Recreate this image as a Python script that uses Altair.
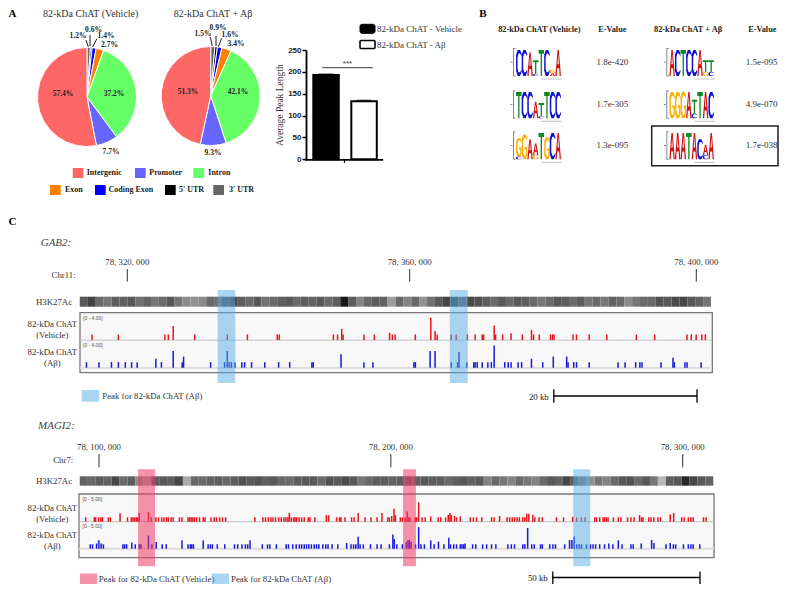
import altair as alt
import pandas as pd

# ---------- data ----------
pie_cats = ["3' UTR", "5' UTR", "Coding Exon", "Exon", "Intron", "Promoter", "Intergenic"]
pie_colors = ["#666666", "#000000", "#0000ff", "#ff8000", "#66ff66", "#6666ff", "#ff6666"]
pie_vehicle = [1.2, 0.6, 1.4, 2.7, 37.2, 7.7, 57.4]
pie_abeta = [1.5, 0.9, 1.6, 3.4, 42.1, 9.3, 51.3]

bar_names = ["82-kDa ChAT - Vehicle", "82-kDa ChAT - A\u03b2"]
bar_means = [193, 133]
bar_errs = [2, 2]
bar_ticks = [0, 50, 100, 150, 200, 250]

evalues_left = ["1.8e-420", "1.7e-305", "1.3e-095"]
evalues_right = ["1.5e-095", "4.9e-070", "1.7e-038"]
logo_l1 = [[("C", 1.9)], [("C", 1.9)], [("A", 1.7)], [("C", .15), ("T", 1.0)], [("T", 1.9)], [("C", 1.9)], [("A", .2), ("G", .25)], [("A", 1.9)]]
logo_l2 = [[("T", 1.9)], [("C", 1.9)], [("C", 1.9)], [("A", 1.2)], [("C", .15), ("T", .95)], [("T", 1.9)], [("C", 1.9)], [("C", 1.9)]]
logo_l3 = [[("C", .2), ("G", 1.35)], [("G", 1.8)], [("A", 1.45)], [("G", .3), ("A", .85)], [("T", 1.9)], [("G", 1.6)], [("C", 1.9)], [("A", 1.9)]]
logo_r1 = [[("A", 1.9)], [("C", 1.9)], [("T", 1.9)], [("C", 1.9)], [("C", 1.9)], [("A", 1.9)], [("G", .3), ("T", .85)], [("C", .3), ("T", .85)]]
logo_r2 = [[("G", 1.9)], [("G", 1.9)], [("G", 1.9)], [("A", 1.9)], [("C", .35), ("T", 1.0)], [("T", 1.9)], [("A", 1.9)], [("C", 1.9)]]
logo_r3 = [[("A", 1.9)], [("A", 1.9)], [("A", 1.9)], [("T", 1.9)], [("A", 1.9)], [("C", 1.45)], [("C", .3), ("A", .75)], [("A", 1.9)]]

gab2_ticks = [78320, 78360, 78400]
gab2_tick_labels = ["78, 320, 000", "78, 360, 000", "78, 400, 000"]
gab2_red_low = [78314.2, 78318.0, 78324.7, 78325.2, 78329.0, 78333.7, 78336.6, 78340.9, 78341.2, 78349.0, 78349.6,
                78350.4, 78353.4, 78354.9, 78357.5, 78357.9, 78360.8, 78363.9, 78365.9, 78366.6, 78368.2, 78369.3,
                78370.3, 78370.5, 78372.2, 78373.2, 78376.0, 78377.6, 78378.4, 78380.0, 78380.3, 78380.5, 78383.2,
                78383.7, 78385.5, 78388.0, 78392.2, 78394.8, 78399.4, 78400.0, 78400.7, 78401.5, 78402.0]
gab2_red_high = [(78325.9, 2.5), (78350.2, 2), (78357.1, 1.3), (78363.0, 4), (78363.6, 1.6), (78372.0, 2.6),
                 (78374.4, 1.2), (78377.3, 1.8)]
gab2_blue_low = [78313.4, 78315.2, 78317.0, 78318.0, 78319.0, 78319.9, 78320.7, 78324.2, 78327.2, 78331.3, 78333.3,
                 78334.0, 78334.3, 78334.8, 78335.8, 78336.2, 78337.2, 78339.1, 78341.1, 78342.7, 78345.9, 78346.1,
                 78353.4, 78354.7, 78360.6, 78360.8, 78365.9, 78366.8, 78368.1, 78369.1, 78369.3, 78369.6, 78370.3,
                 78371.1, 78371.6, 78373.5, 78374.0, 78374.4, 78375.4, 78375.9, 78378.9, 78382.5, 78383.3, 78383.7,
                 78385.5, 78389.6, 78390.6, 78392.1, 78392.7, 78393.0, 78395.7, 78397.6, 78399.1, 78399.4, 78401.4]
gab2_blue_high = [(78323.4, 1.6), (78325.9, 3), (78327.4, 2), (78333.7, 3), (78350.1, 2.4), (78362.9, 3), (78363.6, 3),
                  (78367.0, 2.8), (78372.0, 4), (78377.3, 1.6), (78380.4, 2), (78382.3, 2), (78397.4, 1.8)]
gab2_peaks = [(78332.8, 78335.3), (78365.6, 78368.1)]
gab2_signal = [0.62, 0.72, 0.55, 0.5, 0.6, 0.58, 0.62, 0.52, 0.58, 0.5, 0.55, 0.62, 0.5, 0.42, 0.4, 0.42, 0.55, 0.52,
               0.65, 0.7, 0.6, 0.55, 0.62, 0.52, 0.55, 0.6, 0.62, 0.55, 0.6, 0.58, 0.62, 0.55, 0.6, 0.92, 0.6, 0.45,
               0.55, 0.6, 0.58, 0.35, 0.55, 0.45, 0.55, 0.4, 0.52, 0.62, 0.7, 0.72, 0.6, 0.68, 0.65, 0.6, 0.55, 0.62,
               0.55, 0.62, 0.6, 0.55, 0.5, 0.55, 0.62, 0.6, 0.55, 0.6, 0.5, 0.55, 0.5, 0.58, 0.55, 0.42, 0.5, 0.55,
               0.55, 0.65, 0.62, 0.68, 0.7, 0.62, 0.58, 0.5]

magi2_start = 78100
magi2_ticks = [78100, 78200, 78300]
magi2_tick_labels = ["78, 100, 000", "78, 200, 000", "78, 300, 000"]
magi2_red_low = [-6.4, -3.4, -2.9, -1.9, -1.1, -.5, 1.5, 2.2, 8.2, 9.5, 10.1, 10.7, 11.3, 11.8, 16.5, 18.1, 19.0, 20.1,
                 20.9, 21.8, 22.4, 23.4, 24.1, 26.3, 27.2, 29.3, 29.8, 30.4, 31.0, 31.5, 32.3, 33.3, 34.6, 35.2, 37.3,
                 38.4, 39.2, 40.3, 41.3, 42.4, 52.6, 55.4, 56.3, 57.3, 58.2, 58.9, 59.8, 60.9, 61.8, 62.7, 63.4, 64.1,
                 65.3, 66.1, 66.6, 67.2, 68.0, 68.9, 69.8, 71.2, 71.8, 73.5, 81.1, 82.1, 82.6, 84.0, 86.3, 87.2, 91.0,
                 93.1, 95.2, 98.9, 99.5, 103.3, 104.0, 105.0, 106.2, 106.7, 108.5, 109.0, 110.9, 112.0, 116.5, 117.4,
                 119.1, 122.9, 127.7, 128.8, 129.9, 131.7, 135.1, 136.0, 140.5, 141.4, 142.3, 143.1, 144.0, 144.8,
                 146.0, 146.7, 150.2, 151.7, 152.8, 157.7, 160.2, 164.8, 166.4, 167.7, 171.1, 171.7, 172.8, 174.0,
                 174.5, 175.1, 175.7, 177.6, 179.3, 180.2, 182.5, 183.7, 184.8, 187.4, 187.9, 189.9, 190.7, 191.7,
                 193.1, 194.0, 201.4, 202.3, 203.7, 204.6, 205.4, 209.0, 209.9]
magi2_red_high = [(5.6, 1.9), (12.3, 2), (15.5, 2.2), (64.6, 2), (77.5, 1.5), (78.3, 1.5), (88.6, 2), (96.9, 2),
                  (100.3, 1.3), (101.1, 3), (101.6, 1.5), (105.7, 2.3), (109.7, 4.4), (113.9, 1.2), (120.0, 1.5),
                  (120.6, 2), (121.1, 1.5), (122.2, 1.3), (124.2, 1.2), (137.9, 1.3), (147.4, 1.8), (148.1, 1.8),
                  (149.5, 1.6), (163.4, 1.1), (186.7, 1.5), (197.4, 1.7), (198.6, 2)]
magi2_blue_low = [-4.8, -4.0, -.2, 6.6, 7.2, 7.9, 10.9, 12.3, 12.9, 16.7, 20.3, 21.7, 29.3, 30.1, 30.6, 31.2, 36.3, 37.1,
                  37.8, 39.5, 42.1, 45.5, 46.6, 48.1, 49.3, 50.1, 55.2, 57.0, 57.8, 60.1, 63.5, 64.3, 65.8, 67.0, 68.1,
                  68.9, 69.8, 70.6, 71.4, 72.3, 73.3, 74.1, 74.9, 76.3, 77.3, 78.1, 79.5, 81.5, 86.1, 87.0, 87.8, 89.3,
                  90.4, 92.9, 95.2, 96.6, 99.5, 102.1, 104.0, 108.6, 110.5, 111.7, 115.1, 118.5, 120.8, 121.9, 122.9,
                  124.2, 124.8, 125.4, 128.5, 129.6, 132.0, 133.4, 135.1, 136.6, 140.8, 142.0, 143.1, 146.0, 146.7,
                  149.1, 150.0, 152.2, 152.8, 155.4, 156.5, 157.4, 160.6, 164.8, 165.7, 166.5, 168.2, 169.6, 170.5,
                  171.4, 172.8, 174.5, 177.4, 180.6, 183.7, 184.5, 195.9, 198.5, 199.3, 202.0, 203.7, 204.6, 205.4,
                  207.7]
magi2_blue_high = [(-2.6, 1.2), (-1.8, 1.9), (-1.0, 1.2), (9.7, 1.4), (15.5, 3), (18.2, 1.5), (27.2, 1.9), (34.6, 1.9),
                   (50.9, 1.9), (84.6, 1.3), (88.6, 2.7), (100.7, 3.2), (101.2, 2.2), (105.4, 1.5), (106.0, 2),
                   (106.5, 2), (107.1, 1.5), (109.7, 4.9), (113.9, 1.9), (116.6, 1.6), (120.2, 2.5), (125.9, 1.2),
                   (147.7, 4.7), (162.3, 2), (163.1, 2), (163.9, 2.8), (176.0, 1.2), (179.3, 1.9), (187.3, 1.2),
                   (190.9, 2), (191.7, 1.3), (197.4, 1.3)]
magi2_red_peaks = [(13.4, 19.2), (104.2, 108.6)]
magi2_blue_peaks = [(162.5, 168.3)]
magi2_signal = [0.58, 0.55, 0.6, 0.58, 0.7, 0.55, 0.6, 0.42, 0.35, 0.6, 0.62, 0.6, 0.7, 0.3, 0.55, 0.55, 0.58, 0.6,
                0.55, 0.6, 0.65, 0.62, 0.65, 0.6, 0.62, 0.55, 0.55, 0.6, 0.62, 0.62, 0.55, 0.65, 0.62, 0.68, 0.62, 0.5,
                0.55, 0.6, 0.6, 0.58, 0.6, 0.6, 0.58, 0.62, 0.6, 0.6, 0.55, 0.6, 0.62, 0.58, 0.62, 0.45, 0.55, 0.5,
                0.45, 0.55, 0.5, 0.45, 0.55, 0.62, 0.58, 0.7, 0.6, 0.5, 0.4, 0.5, 0.45, 0.55, 0.62, 0.65, 0.55, 0.62,
                0.5, 0.25, 0.6, 0.62, 0.85, 0.7, 0.62, 0.58]

# ---------- layout helpers (reference pixel -> canvas) ----------
M = 8
W, H = 771, 577
SERIF = "Liberation Serif"
SANS = "Liberation Sans"
layers = []


def X(p):
    return p - M


def Y(p):
    return p - M


def text(s, x, y, size=9, align="center", bold=False, italic=False, color="#222222", font=SERIF):
    layers.append(alt.Chart().mark_text(
        fontSize=size, align=align, baseline="middle", font=font,
        fontWeight="bold" if bold else "normal", fontStyle="italic" if italic else "normal", color=color
    ).encode(text=alt.value(s), x=alt.value(X(x)), y=alt.value(Y(y))))


def line(x1, y1, x2, y2, color="#000000", width=1.0):
    layers.append(alt.Chart().mark_rule(color=color, strokeWidth=width).encode(
        x=alt.value(X(x1)), y=alt.value(Y(y1)), x2=alt.value(X(x2)), y2=alt.value(Y(y2))))


def box(x1, y1, x2, y2, fill="transparent", stroke=None, width=0, opacity=1.0, radius=0):
    kw = dict(fill=fill, opacity=opacity, strokeWidth=width, cornerRadius=radius)
    if stroke:
        kw["stroke"] = stroke
    layers.append(alt.Chart().mark_rect(**kw).encode(
        x=alt.value(X(x1)), y=alt.value(Y(y1)), x2=alt.value(X(x2)), y2=alt.value(Y(y2))))


# ---------- panel A: pies ----------
def pie(values, cx, cy, r=49.5):
    df = pd.DataFrame({"cat": pie_cats, "v": values, "o": list(range(len(values)))})
    layers.append(alt.Chart(df).mark_arc(outerRadius=r, stroke="white", strokeWidth=1).encode(
        x=alt.value(X(cx)), y=alt.value(Y(cy)),
        theta=alt.Theta("v:Q", stack="normalize"),
        color=alt.Color("cat:N", scale=alt.Scale(domain=pie_cats, range=pie_colors), legend=None),
        order=alt.Order("o:Q")))


pie(pie_vehicle, 87, 97)
pie(pie_abeta, 210.7, 96)
text("82-kDa ChAT (Vehicle)", 90.7, 14, size=10, color="#333333")
text("82-kDa ChAT + A\u03b2", 213, 14, size=10, color="#333333")
for v, x, y in zip(pie_vehicle, [78, 93.5, 106, 109.5, 114, 111, 63], [35.5, 29.5, 36, 44.5, 94, 152, 94]):
    text(f"{v}%", x, y, size=7.5, bold=True)
for v, x, y in zip(pie_abeta, [203, 218, 230, 236, 238, 213, 188], [34, 28, 34.5, 43.5, 92, 153, 92]):
    text(f"{v}%", x, y, size=7.5, bold=True)
line(88.3, 46.7, 86, 40, width=0.9)
line(90, 46, 90, 35, width=0.9)
line(92.7, 47, 96.7, 39, width=0.9)
line(212.3, 46, 210.3, 37, width=0.9)
line(216, 46, 216, 36, width=0.9)
line(218.3, 46.7, 221.7, 38.3, width=0.9)

legend_rows = [("Intergenic", "#ff6666", 72.7, 86.7, 173), ("Promoter", "#6666ff", 135, 149.3, 173),
               ("Intron", "#66ff66", 193.3, 208.3, 173), ("Exon", "#ff8000", 50, 65, 190),
               ("Coding Exon", "#0000ff", 95, 108.5, 190), ("5' UTR", "#000000", 165, 179, 190),
               ("3' UTR", "#666666", 213.3, 229, 190)]
for name, col, bx, tx, cy in legend_rows:
    box(bx, cy - 5, bx + 10.7, cy + 5, fill=col)
    text(name, tx, cy, size=8, align="left", bold=True)

text("A", 8.5, 14, size=11, align="left", bold=True, color="#000000")
text("B", 483, 14, size=11, bold=True, color="#000000")
text("C", 8.5, 222, size=11, align="left", bold=True, color="#000000")

# ---------- panel A: bar chart ----------
bar_df = pd.DataFrame({"name": bar_names, "mean": bar_means, "upper": [m + e for m, e in zip(bar_means, bar_errs)]})
bx_scale = alt.Scale(domain=bar_names, range=[X(313.3), X(376.8)], paddingInner=0.33, paddingOuter=0)
by_scale = alt.Scale(domain=[0, 250], range=[Y(159.3), Y(50)], zero=False, nice=False)
layers.append(alt.Chart(bar_df).mark_rule(color="#000000", strokeWidth=1).encode(
    x=alt.X("name:N", scale=bx_scale, axis=None, sort=None),
    y=alt.Y("mean:Q", scale=by_scale, axis=None), y2="upper:Q"))
layers.append(alt.Chart(bar_df).mark_tick(color="#000000", size=15, thickness=1.2).encode(
    x=alt.X("name:N", scale=bx_scale, axis=None, sort=None),
    y=alt.Y("upper:Q", scale=by_scale, axis=None)))
layers.append(alt.Chart(bar_df).mark_bar(stroke="#000000", strokeWidth=2).encode(
    x=alt.X("name:N", scale=bx_scale, axis=None, sort=None),
    y=alt.Y("mean:Q", scale=by_scale, axis=alt.Axis(
        values=bar_ticks, offset=-X(306), grid=False, domainColor="#000000", domainWidth=1.8,
        tickColor="#000000", tickWidth=1.5, tickSize=4, labelFont=SANS, labelFontWeight="bold", labelFontSize=8,
        labelColor="#222222", labelPadding=1, title="Average Peak Length", titleFont=SERIF, titleFontWeight="normal",
        titleFontSize=9.5, titleColor="#333333", titlePadding=3)),
    fill=alt.Fill("name:N", scale=alt.Scale(domain=bar_names, range=["#000000", "#ffffff"]), legend=None)))
layers.append(alt.Chart(pd.DataFrame({"g": ["all"]})).mark_point(opacity=0).encode(
    x=alt.X("g:N", scale=alt.Scale(domain=["all"], range=[X(304.3), X(382.7)]), axis=alt.Axis(
        offset=-(H - Y(159.3)), labels=False, title=None, grid=False, domainColor="#000000", domainWidth=1.8,
        tickColor="#000000", tickWidth=1.2, tickSize=3))))
line(322.3, 67.7, 372.7, 67.7, color="#222222", width=0.9)
text("***", 347.5, 64, size=8, font=SANS, color="#333333")
box(360, 24.3, 375, 33.3, fill="#000000", stroke="#000000", width=1, radius=2)
box(360, 40.5, 375, 48.5, fill="#ffffff", stroke="#000000", width=1.6, radius=1)
text(bar_names[0], 377, 28.5, size=9, align="left", color="#333333")
text(bar_names[1], 377, 44.5, size=9, align="left", color="#333333")

# ---------- panel B: motif logos ----------
LETTERS = {
    "T": [[(0, .85), (.38, .85), (.38, 0), (.62, 0), (.62, .85), (1, .85), (1, 1), (0, 1)]],
    "A": [[(0, 0), (.38, 1), (.62, 1), (1, 0), (.76, 0), (.68, .3), (.32, .3), (.24, 0)],
          [(.38, .45), (.62, .45), (.5, .85)]],
    "C": [[(1, .75), (1, .85), (.72, 1), (.3, 1), (0, .8), (0, .2), (.3, 0), (.72, 0), (1, .15), (1, .25), (.72, .14),
           (.45, .14), (.27, .28), (.27, .72), (.45, .86), (.72, .86)]],
    "G": [[(1, .75), (1, .85), (.72, 1), (.3, 1), (0, .8), (0, .2), (.3, 0), (.72, 0), (1, .15), (1, .5), (.55, .5),
           (.55, .38), (.75, .38), (.75, .2), (.72, .14), (.45, .14), (.27, .28), (.27, .72), (.45, .86), (.72, .86)]],
}
LETTER_COLORS = {"A": "#d01010", "C": "#1010cc", "G": "#ffb000", "T": "#108a20"}


def glyph(letter, w, h):
    parts = []
    for poly in LETTERS[letter]:
        pts = [f"{(px - .5) * w:.2f},{-py * h:.2f}" for px, py in poly]
        parts.append("M" + " L".join(pts) + " Z")
    return " ".join(parts)


def logo(stacks, x0, x1, ybot, ytop):
    n = len(stacks)
    w = (x1 - x0) / n * 0.98
    bit_px = (ybot - ytop) / 2
    rows = []
    for i, stack in enumerate(stacks):
        base = 0.0
        for letter, bits in stack:
            rows.append({"pos": i + .5, "base": base, "path": glyph(letter, w, bits * bit_px),
                         "fill": LETTER_COLORS[letter]})
            base += bits
    layers.append(alt.Chart(pd.DataFrame(rows)).mark_point(filled=True, size=4, opacity=1, strokeWidth=0).encode(
        x=alt.X("pos:Q", scale=alt.Scale(domain=[0, n], range=[X(x0), X(x1)], zero=False, nice=False), axis=None),
        y=alt.Y("base:Q", scale=alt.Scale(domain=[0, 2], range=[Y(ybot), Y(ytop)], zero=False, nice=False), axis=None),
        shape=alt.Shape("path:N", scale=None),
        color=alt.Color("fill:N", scale=None)))
    bx = x0 - 2.5
    line(bx, ytop, bx, ybot, color="#555555", width=0.7)
    line(bx, ytop, bx + 2, ytop, color="#555555", width=0.7)
    line(bx, ybot, bx + 2, ybot, color="#555555", width=0.7)
    line(bx - 3, (ytop + ybot) / 2, bx - 1, (ytop + ybot) / 2, color="#555555", width=0.7)
    line(x0 + 25, ybot + 3, x1 + 1, ybot + 3, color="#999999", width=0.6)


LX0, LX1, RX0, RX1 = 516, 561, 669.3, 714
logo(logo_l1, LX0, LX1, 76, 48.5)
logo(logo_l2, LX0, LX1, 118.3, 90.7)
logo(logo_l3, LX0, LX1, 159.3, 131.7)
logo(logo_r1, RX0, RX1, 76, 48.5)
logo(logo_r2, RX0, RX1, 118.3, 90.7)
logo(logo_r3, RX0, RX1, 159.3, 131.7)
text("82-kDa ChAT (Vehicle)", 539.3, 30, size=8.3, bold=True)
text("E-Value", 612.3, 30, size=8.3, bold=True)
text("82-kDa ChAT + A\u03b2", 688, 30, size=8.3, bold=True)
text("E-Value", 762.3, 30, size=8.3, bold=True)
for s, y in zip(evalues_left, [62.3, 104, 145]):
    text(s, 612.3, y, size=9, color="#333333")
for s, y in zip(evalues_right, [62.3, 104, 145]):
    text(s, 761.7, y, size=9, color="#333333")
box(651.7, 126, 778, 165.7, stroke="#222222", width=1.5)


# ---------- panel C: tracks ----------
def bars(low, high, xscale, ymax, ybase, ytop, color):
    df = pd.DataFrame({"pos": list(low) + [p for p, _ in high], "v": [1.0] * len(low) + [v for _, v in high]})
    layers.append(alt.Chart(df).mark_bar(width=1.5, color=color).encode(
        x=alt.X("pos:Q", scale=xscale, axis=None),
        y=alt.Y("v:Q", scale=alt.Scale(domain=[0, ymax], range=[Y(ybase), Y(ytop)], zero=False, nice=False),
                axis=None, stack=None)))


def strip(signal, x0, x1, y0, y1):
    n = len(signal)
    df = pd.DataFrame({"b": list(range(n)), "e": [i + 1 for i in range(n)], "s": signal})
    layers.append(alt.Chart(df).mark_rect().encode(
        x=alt.X("b:Q", scale=alt.Scale(domain=[0, n], range=[X(x0), X(x1)], zero=False, nice=False), axis=None),
        x2="e:Q",
        y=alt.value(Y(y0)), y2=alt.value(Y(y1)),
        color=alt.Color("s:Q", scale=alt.Scale(domain=[0, 1], range=["#ffffff", "#000000"]), legend=None)))


def peaks(spans, xscale, y0, y1, color, opacity):
    df = pd.DataFrame({"s": [a for a, _ in spans], "e": [b for _, b in spans]})
    layers.append(alt.Chart(df).mark_rect(color=color, opacity=opacity).encode(
        x=alt.X("s:Q", scale=xscale, axis=None), x2="e:Q", y=alt.value(Y(y0)), y2=alt.value(Y(y1))))


def ticks(values, labels, xscale, y_label, y0, y1):
    df = pd.DataFrame({"p": values, "t": labels})
    layers.append(alt.Chart(df).mark_rule(color="#333333", strokeWidth=1).encode(
        x=alt.X("p:Q", scale=xscale, axis=None), y=alt.value(Y(y0)), y2=alt.value(Y(y1))))
    layers.append(alt.Chart(df).mark_text(fontSize=8.8, font=SERIF, color="#333333", baseline="middle").encode(
        x=alt.X("p:Q", scale=xscale, axis=None), y=alt.value(Y(y_label)), text="t:N"))


BLUE_PEAK, RED_PEAK = "#58aee8", "#ee3a66"
RED, BLUE = "#e8141c", "#1818d8"
gab2_x = alt.Scale(domain=gab2_ticks, range=[X(127.3), X(409.7), X(696.3)], zero=False, nice=False)
magi2_x = alt.Scale(domain=[magi2_ticks[0], magi2_ticks[-1]], range=[X(99), X(682.7)], zero=False, nice=False)

# GAB2
text("GAB2:", 40.7, 243, size=11, align="left", italic=True, color="#444444")
ticks(gab2_ticks, gab2_tick_labels, gab2_x, 262, 269, 281.7)
text("Chr11:", 75.7, 275, size=8.8, align="right", color="#333333")
text("H3K27Ac", 54, 302.3, size=8.8, color="#333333")
strip(gab2_signal, 80, 711, 296.7, 306.7)
box(79, 296.7, 80, 306.7, fill="#f8c8c8")
box(80, 312.7, 712.3, 372.7, fill="#f8f8f8", stroke="#777777", width=1.3)
line(80, 340.2, 712, 340.2, color="#bbbbbb", width=0.9)
line(80, 367.7, 712, 367.7, color="#dddddd", width=2)
bars(gab2_red_low, gab2_red_high, gab2_x, 4, 340, 317.7, RED)
bars(gab2_blue_low, gab2_blue_high, gab2_x, 4, 367.7, 345.4, BLUE)
text("[0 - 4.00]", 83, 317.7, size=5, align="left", font=SANS, color="#555555")
text("[0 - 4.00]", 83, 345, size=5, align="left", font=SANS, color="#555555")
text("82-kDa ChAT", 52.3, 324.3, size=8.8, color="#333333")
text("(Vehicle)", 52.3, 335, size=8.8, color="#333333")
text("82-kDa ChAT", 52.3, 351.7, size=8.8, color="#333333")
text("(A\u03b2)", 52.3, 362.7, size=8.8, color="#333333")
peaks(gab2_peaks, gab2_x, 290, 383, BLUE_PEAK, 0.5)
box(81.7, 390, 99, 401.7, fill=BLUE_PEAK, opacity=0.5)
text("Peak for 82-kDa ChAT (A\u03b2)", 102.3, 396, size=8.8, align="left", color="#333333")
text("20 kb", 548.7, 396.7, size=8.8, align="right", color="#222222")
line(553.3, 396, 697, 396, width=1.5)
line(553.8, 389.3, 553.8, 402.7, width=1.3)
line(697, 389.3, 697, 402.7, width=1.3)

# MAGI2
text("MAGI2:", 38, 425.7, size=11, align="left", italic=True, color="#444444")
ticks(magi2_ticks, magi2_tick_labels, magi2_x, 447.3, 454, 467.3)
text("Chr7:", 73.3, 460.3, size=8.8, align="right", color="#333333")
text("H3K27Ac", 54, 481.3, size=8.8, color="#333333")
strip(magi2_signal, 80, 713.3, 476.3, 485.7)
box(79, 476.3, 80, 485.7, fill="#f8c8c8")
box(79, 494, 714, 557.7, fill="#f8f8f8", stroke="#777777", width=1.3)
line(79, 521.7, 714, 521.7, color="#bbbbbb", width=0.9)
line(79, 548.7, 714, 548.7, color="#dddddd", width=2)
bars([magi2_start + p for p in magi2_red_low], [(magi2_start + p, v) for p, v in magi2_red_high], magi2_x, 5, 521.7, 499.7, RED)
bars([magi2_start + p for p in magi2_blue_low], [(magi2_start + p, v) for p, v in magi2_blue_high], magi2_x, 5, 548.7, 526.7, BLUE)
text("[0 - 5.00]", 82.5, 499.3, size=5, align="left", font=SANS, color="#555555")
text("[0 - 5.00]", 82.5, 526, size=5, align="left", font=SANS, color="#555555")
text("82-kDa ChAT", 52.3, 508, size=8.8, color="#333333")
text("(Vehicle)", 52.3, 519, size=8.8, color="#333333")
text("82-kDa ChAT", 52.3, 534.7, size=8.8, color="#333333")
text("(A\u03b2)", 52.3, 545.7, size=8.8, color="#333333")
peaks([(magi2_start + a, magi2_start + b) for a, b in magi2_red_peaks], magi2_x, 469.3, 566.3, RED_PEAK, 0.55)
peaks([(magi2_start + a, magi2_start + b) for a, b in magi2_blue_peaks], magi2_x, 469.3, 566.3, BLUE_PEAK, 0.5)
box(80, 573.5, 97.3, 584, fill=RED_PEAK, opacity=0.55)
text("Peak for 82-kDa ChAT (Vehicle)", 98.7, 579, size=8.8, align="left", color="#333333")
box(211.7, 573.5, 229, 584, fill=BLUE_PEAK, opacity=0.5)
text("Peak for 82-kDa ChAT (A\u03b2)", 231, 579, size=8.8, align="left", color="#333333")
text("50 kb", 547.7, 578, size=8.8, align="right", color="#222222")
line(552.3, 577.5, 700, 577.5, width=1.5)
line(552.8, 571.5, 552.8, 584, width=1.3)
line(700, 571.5, 700, 584, width=1.3)

chart = alt.layer(*layers).resolve_scale(
    x="independent", y="independent", color="independent", theta="independent", fill="independent"
).properties(
    width=W, height=H, padding=0, autosize=alt.AutoSizeParams(type="none")
).configure_view(stroke=None)

chart.save("out.html", embed_options={"renderer": "svg", "actions": False})
